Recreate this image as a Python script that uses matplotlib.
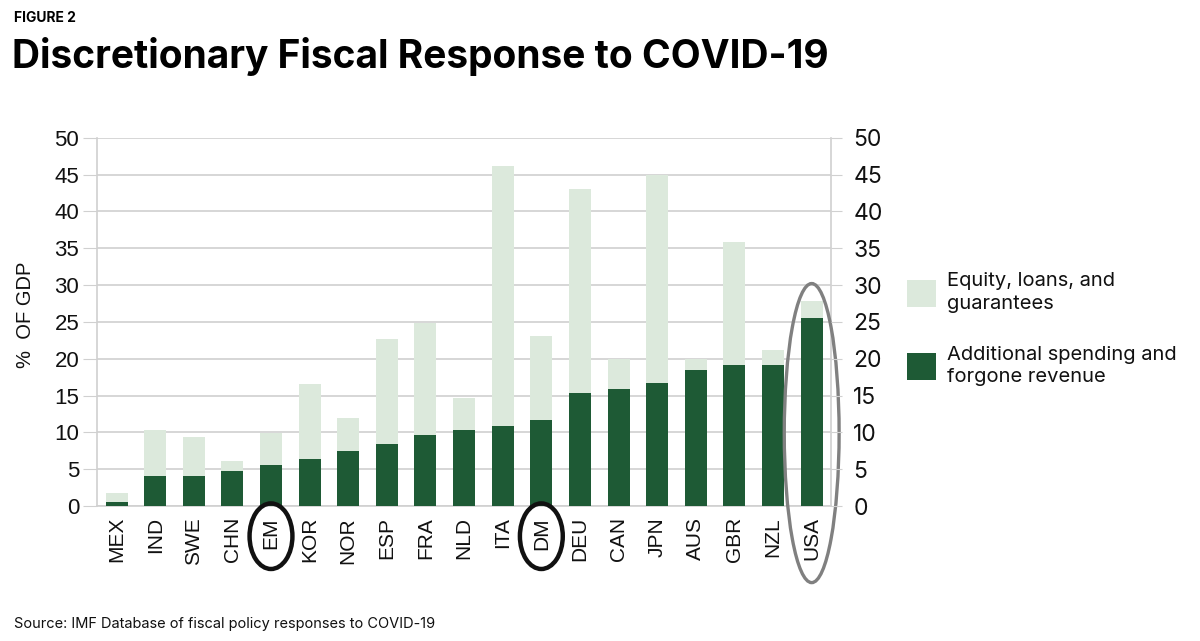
import matplotlib
matplotlib.use("Agg")
import matplotlib.pyplot as plt
from matplotlib.patches import Ellipse
import numpy as np

categories = ["MEX", "IND", "SWE", "CHN", "EM", "KOR", "NOR", "ESP", "FRA", "NLD",
              "ITA", "DM", "DEU", "CAN", "JPN", "AUS", "GBR", "NZL", "USA"]
spending = [0.6, 4.1, 4.1, 4.8, 5.6, 6.4, 7.4, 8.4, 9.6, 10.3,
            10.9, 11.7, 15.3, 15.9, 16.7, 18.4, 19.2, 19.2, 25.5]
total = [1.8, 10.3, 9.4, 6.1, 9.9, 16.6, 11.9, 22.7, 24.9, 14.7,
         46.1, 23.1, 43.1, 20.0, 45.0, 20.0, 35.9, 21.2, 27.8]
equity = [t - s for t, s in zip(total, spending)]
series_labels = ["Additional spending and\nforgone revenue", "Equity, loans, and\nguarantees"]
yticks = [0, 5, 10, 15, 20, 25, 30, 35, 40, 45, 50]
circled_black = ["EM", "DM"]
circled_grey = ["USA"]

DARK = "#1e5a35"
LIGHT = "#dce9dc"
GRID = "#d0d0d0"

fig = plt.figure(figsize=(12, 6.41), dpi=100)
ax = fig.add_axes([0.081, 0.2106, 0.6115, 0.5746])

x = np.arange(len(categories))
b1 = ax.bar(x, spending, width=0.57, color=DARK, label=series_labels[0], zorder=3)
b2 = ax.bar(x, equity, bottom=spending, width=0.57, color=LIGHT, label=series_labels[1], zorder=3)

ax.set_xlim(-0.5, len(categories) - 0.5)
ax.set_ylim(0, 50)
ax.set_yticks(yticks)
ax.yaxis.grid(True, color=GRID, linewidth=1.2, zorder=0)
ax.set_axisbelow(True)
for s in ["left", "right", "bottom", "top"]:
    ax.spines[s].set_color(GRID)
    ax.spines[s].set_linewidth(1.2)
ax.spines["top"].set_visible(False)
ax.tick_params(axis="y", length=10, color=GRID, labelsize=16, pad=3, labelcolor="#111111")
ax.tick_params(axis="x", length=0, pad=8)
ax.set_xticks(x)
ax.set_xticklabels(categories, rotation=90, fontsize=15, family="Liberation Sans", color="#111111")
for lab in ax.get_yticklabels():
    lab.set_family("Liberation Sans")

ax2 = ax.twinx()
ax2.set_ylim(0, 50)
ax2.set_yticks(yticks)
ax2.tick_params(axis="y", length=8, color=GRID, labelsize=16.5, pad=8, labelcolor="#111111")
for s in ax2.spines.values():
    s.set_visible(False)
for lab in ax2.get_yticklabels():
    lab.set_family("Inter")

ax.set_ylabel("%  OF GDP", fontsize=14.5, family="Liberation Sans", color="#111111")
ax.yaxis.set_label_coords(-0.085, 0.52)

# ellipses highlighting
for c in circled_black:
    i = categories.index(c)
    e = Ellipse((i, -4.1), 1.11, 8.9, fill=False, edgecolor="#111111", linewidth=3.2,
                clip_on=False, zorder=5)
    ax.add_patch(e)
for c in circled_grey:
    i = categories.index(c)
    e = Ellipse((i, 9.9), 1.42, 40.6, fill=False, edgecolor="#808080", linewidth=2.4,
                clip_on=False, zorder=5)
    ax.add_patch(e)

leg = ax.legend(handles=[b2, b1], labels=[series_labels[1], series_labels[0]],
                loc="upper left", bbox_to_anchor=(0.7555, 0.575), bbox_transform=fig.transFigure,
                frameon=False, fontsize=14.5, handlelength=1.45, handleheight=1.65,
                labelspacing=1.6, handletextpad=0.55, borderaxespad=0, borderpad=0)
for t in leg.get_texts():
    t.set_family("Inter")
    t.set_color("#111111")
    t.set_linespacing(1.35)

fig.text(0.012, 0.983, "FIGURE 2", fontsize=10, fontweight="bold", family="Inter", va="top")
fig.text(0.010, 0.942, "Discretionary Fiscal Response to COVID-19", fontsize=28,
         fontweight="bold", family="Inter", va="top")
fig.text(0.012, 0.02, "Source: IMF Database of fiscal policy responses to COVID-19",
         fontsize=10.5, family="Inter", color="#111111")

fig.savefig("out.png", dpi=100)
